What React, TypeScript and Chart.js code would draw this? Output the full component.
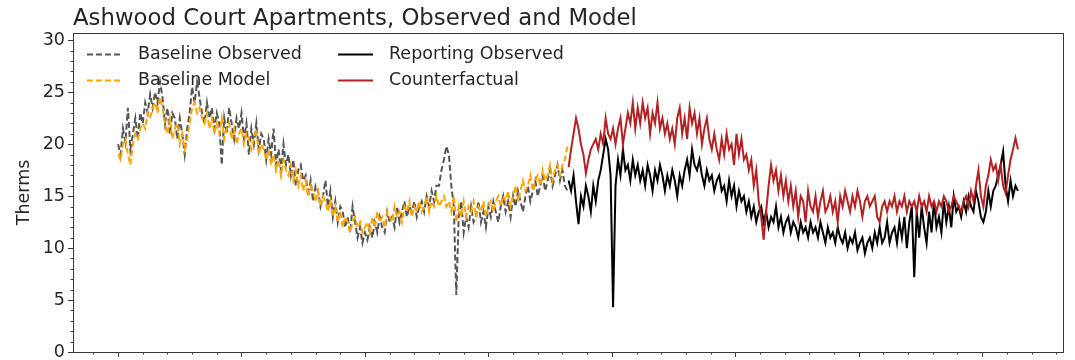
import React, { useEffect, useRef } from 'react';
import { Chart, registerables } from 'chart.js';

Chart.register(...registerables);

const TITLE = 'Ashwood Court Apartments, Observed and Model';
const Y_LABEL = 'Therms';

// Day index of the first point of each period, and spacing between points (days)
const BASELINE_START = 0;
const REPORTING_START = 365;
const STEP = 2;

const baselineObserved = [
  20.0, 19.0, 21.5, 20.2, 23.5, 19.5, 21.0, 22.5, 20.5, 23.0,
  22.0, 24.0, 23.0, 24.8, 23.5, 25.0, 24.0, 26.0, 24.5, 22.0,
  23.5, 21.0, 23.0, 22.5, 20.5, 22.5, 21.0, 19.0, 21.5, 23.0,
  25.5, 24.0, 26.0, 24.5, 23.0, 22.0, 24.0, 22.5, 23.5, 21.5,
  23.0, 22.0, 18.0, 22.5, 21.0, 23.5, 22.0, 20.5, 22.5, 21.5,
  23.0, 20.5, 22.0, 19.0, 21.5, 20.0, 22.0, 19.5, 21.0, 20.5,
  18.5, 20.5, 19.0, 21.5, 18.0, 19.5, 17.5, 20.0, 18.0, 19.0,
  17.0, 18.5, 16.0, 17.5, 18.0, 16.5, 17.0, 15.0, 16.5, 14.5,
  16.0, 15.5, 14.0, 15.0, 16.5, 14.0, 15.5, 13.0, 14.5, 12.5,
  14.0, 13.5, 12.0, 13.0, 11.5, 14.0, 12.5, 11.0, 12.0, 10.5,
  11.5, 10.8, 12.0, 11.0, 12.5, 11.5, 13.0, 12.0, 11.5, 13.5,
  12.5, 13.0, 12.0, 14.0, 12.5, 13.5, 14.5, 13.0, 14.0, 13.5,
  14.5, 13.0, 14.0, 14.5, 13.5, 15.0, 14.0, 15.5, 14.5, 16.0,
  16.0, 17.5, 18.5, 19.8, 19.0, 16.0, 14.0, 5.5, 13.0, 14.5,
  11.5, 13.0, 12.0, 14.0, 12.5, 13.0, 14.5, 12.5, 13.5, 12.0,
  14.0, 13.0, 14.5, 13.5, 12.5, 14.0, 15.0, 13.5, 14.5, 13.0,
  15.0, 14.0, 15.5, 14.5, 13.5, 15.0, 16.0, 14.5, 15.5, 16.5,
  15.0, 16.0, 17.0, 15.5, 16.5, 17.5, 16.0, 17.0, 18.0, 16.5,
  17.5, 16.0, 15.5,
];

const baselineModel = [
  19.0, 18.5, 20.0, 20.5, 19.0, 18.0, 20.0, 21.0, 20.5, 21.5,
  22.0, 21.5, 23.0, 22.5, 23.5, 24.0, 23.0, 24.5, 23.5, 22.0,
  21.0, 22.5, 20.5, 21.5, 22.0, 20.0, 21.0, 19.5, 20.5, 22.0,
  23.5, 24.0, 23.0, 23.5, 22.5, 22.0, 23.0, 21.5, 22.5, 21.0,
  22.0, 21.0, 22.5, 20.5, 21.5, 22.0, 20.5, 21.5, 20.0, 21.0,
  21.5, 20.0, 21.0, 20.5, 19.5, 20.5, 21.5, 19.0, 20.0, 19.5,
  18.5, 19.5, 18.0, 19.0, 17.5, 18.5, 17.0, 18.5, 17.5, 17.0,
  18.0, 16.5, 17.5, 16.0, 17.0, 15.5, 16.5, 15.0, 16.0, 15.5,
  14.5, 15.5, 14.0, 15.0, 14.5, 13.5, 14.5, 13.0, 14.0, 12.5,
  13.5, 12.0, 13.0, 12.5, 11.5, 12.5, 13.0, 12.0, 12.5, 11.5,
  12.0, 12.5, 11.5, 13.0, 12.0, 13.5, 12.5, 13.0, 12.0, 13.5,
  13.0, 12.5, 14.0, 13.0, 13.5, 12.5, 14.0, 13.5, 14.5, 13.0,
  14.0, 13.5, 14.5, 13.5, 14.0, 15.0, 13.5, 14.5, 14.0, 15.0,
  14.0, 14.5, 15.0, 14.0, 14.5, 13.5, 15.0, 12.5, 14.0, 13.0,
  14.5, 13.0, 14.0, 13.5, 14.5, 13.0, 14.0, 13.5, 14.5, 13.0,
  14.0, 14.5, 13.5, 14.5, 15.0, 14.0, 15.0, 14.5, 15.5, 14.0,
  15.0, 16.0, 14.5, 15.5, 16.5, 15.5, 16.0, 17.0, 15.5, 16.5,
  17.0, 16.0, 17.5, 16.5, 17.0, 18.0, 16.5, 17.5, 18.0, 17.0,
  18.0, 18.5, 19.8,
];

const reportingObserved = [
  16.5, 15.5, 17.0, 14.5, 12.3, 15.0, 14.0, 16.0, 15.0, 13.5,
  16.0, 14.5, 16.5, 17.5, 19.0, 20.5, 19.5, 17.0, 4.3, 16.0,
  18.5, 17.0, 19.5, 17.5, 18.0, 16.5, 18.5, 17.0, 18.0, 16.5,
  17.5, 16.0, 18.0, 17.0, 15.5, 17.5, 16.5, 18.0, 17.0, 15.5,
  17.0, 16.0, 17.5, 16.5, 15.0, 17.0, 16.0, 17.5, 18.5, 17.0,
  19.5, 18.0, 17.5, 18.5, 17.0, 16.0, 17.5, 16.5, 17.0, 15.5,
  16.5, 17.0, 15.5, 16.0, 14.5, 16.5, 15.0, 16.0, 14.0, 15.5,
  14.5, 15.0, 13.5, 14.5, 13.0, 14.0, 12.5, 13.5, 14.0, 12.5,
  13.5, 12.0, 13.0, 12.5, 14.0, 12.0, 13.0, 11.5, 12.5, 13.0,
  11.5, 12.5, 12.0, 11.0, 12.5, 11.5, 12.0, 11.0, 12.5, 11.5,
  12.0, 11.0, 12.5, 11.5, 10.5, 12.0, 11.0, 11.5, 10.5, 12.0,
  11.0, 10.5, 11.5, 10.0, 11.0, 10.5, 11.5, 9.8, 10.5, 11.0,
  9.5, 10.5, 11.0, 10.0, 11.5, 10.5, 12.0, 10.5, 11.0, 12.5,
  10.5, 11.5, 12.0, 10.5, 12.5, 11.0, 13.0, 10.0, 12.5, 14.0,
  7.2, 13.5, 11.0, 14.0, 12.0, 10.5, 13.5, 11.5, 14.5, 12.0,
  13.0, 11.5, 14.5, 12.5, 14.0, 12.0, 15.0, 13.5, 14.0, 13.0,
  14.5, 13.5, 15.0, 14.0, 13.5, 15.5, 14.5, 13.0, 12.5, 13.5,
  15.5, 14.0, 15.5, 16.0, 17.0, 18.0, 19.3, 16.0, 14.5, 16.5,
  15.0, 16.0, 15.5,
];

const counterfactual = [
  17.8, 19.5, 21.0, 22.5, 21.5, 20.0, 19.0, 17.2, 18.5, 19.5,
  20.0, 20.5, 19.5, 21.0, 20.0, 22.5, 21.0, 20.5, 21.5, 20.0,
  21.5, 22.5, 20.0, 21.5, 23.0, 22.0, 24.0, 21.5, 23.5, 22.0,
  24.0, 22.5, 23.5, 21.0, 23.0, 22.0, 24.0, 21.5, 22.5, 21.0,
  22.0, 20.5, 21.5, 20.0, 22.5, 23.5, 21.0, 22.5, 20.5, 23.5,
  22.0, 23.0, 21.0, 22.5, 20.0, 21.5, 22.5, 20.5, 19.5, 21.0,
  19.5, 18.5, 20.5, 19.0, 21.0, 19.5, 20.0, 18.0, 21.0, 19.0,
  20.5, 18.5, 19.0, 17.5, 18.5, 16.0, 17.5, 14.5, 13.0, 10.8,
  13.5, 16.0, 18.0, 16.5, 17.5, 15.5, 17.0, 15.0, 16.5, 14.5,
  16.0, 14.0, 15.5, 13.0, 15.0, 14.5, 12.5, 15.5, 14.0, 13.5,
  15.0, 13.0, 14.5, 15.5, 13.5, 14.0, 15.0, 13.5, 14.5, 12.5,
  15.0, 14.0, 15.5, 14.5, 13.5, 15.0, 14.0, 15.5, 14.5, 13.0,
  14.5, 15.0, 14.0, 14.5, 15.0, 13.0, 12.5, 14.0, 14.5, 13.5,
  14.5, 14.0, 15.0, 13.5, 14.5, 14.0, 15.0, 13.5, 14.5, 14.0,
  14.5, 13.5, 15.0, 14.0, 14.5, 13.5, 15.0, 14.0, 14.5, 13.5,
  14.5, 14.0, 15.0, 14.5, 13.5, 14.0, 15.0, 14.5, 14.0, 13.5,
  14.5, 15.0, 14.0, 15.5, 14.5, 16.0, 17.5, 15.0, 14.0, 16.0,
  17.0, 18.5, 17.5, 18.0, 16.5, 18.0, 16.0, 15.3, 17.0, 18.5,
  19.5, 20.6, 19.5,
];

const Y_MIN = 0;
const Y_MAX = 30.7;
const Y_MAJOR = 5;
const Y_MINOR = 1;
const X_MIN = -36.5;
const X_MAX = 765.5;
const X_MAJOR = 100;
const X_MINOR = 20;

const LEGEND_ITEMS = [
  { label: 'Baseline Observed', color: '#555555', dash: true, col: 0, row: 0 },
  { label: 'Baseline Model', color: '#ffa500', dash: true, col: 0, row: 1 },
  { label: 'Reporting Observed', color: '#000000', dash: false, col: 1, row: 0 },
  { label: 'Counterfactual', color: '#b22222', dash: false, col: 1, row: 1 },
];

const FONT = '"DejaVu Sans", sans-serif';
const TEXT_COLOR = '#262626';
const AXIS_COLOR = '#3a3a3a';

function toPoints(values: number[], start: number) {
  return values.map((v, i) => ({ x: start + i * STEP, y: v }));
}

function zeroPadding(s: any) {
  s.paddingTop = 0;
  s.paddingBottom = 0;
  s.paddingLeft = 0;
  s.paddingRight = 0;
}

const decorPlugin = {
  id: 'decor',
  afterDraw(chart: any) {
    const { ctx, chartArea: a, scales } = chart;
    ctx.save();
    ctx.strokeStyle = AXIS_COLOR;
    ctx.lineWidth = 1;
    ctx.strokeRect(Math.round(a.left) + 0.5, Math.round(a.top) + 0.5,
      Math.round(a.right - a.left), Math.round(a.bottom - a.top));

    const ys = scales.y;
    for (let v = Y_MIN; v <= 30; v += Y_MINOR) {
      const py = Math.round(ys.getPixelForValue(v)) + 0.5;
      const len = v % Y_MAJOR === 0 ? 5 : 2.5;
      ctx.beginPath();
      ctx.moveTo(a.left, py);
      ctx.lineTo(a.left - len, py);
      ctx.stroke();
    }
    const xs = scales.x;
    for (let v = -20; v <= 760; v += X_MINOR) {
      const px = Math.round(xs.getPixelForValue(v)) + 0.5;
      const len = v % X_MAJOR === 0 ? 5 : 2.5;
      ctx.beginPath();
      ctx.moveTo(px, a.bottom);
      ctx.lineTo(px, a.bottom + len);
      ctx.stroke();
    }

    // title
    ctx.fillStyle = TEXT_COLOR;
    ctx.font = `22.8px ${FONT}`;
    ctx.textAlign = 'left';
    ctx.textBaseline = 'alphabetic';
    ctx.fillText(TITLE, a.left, a.top - 8);

    // y label
    ctx.save();
    ctx.translate(24, (a.top + a.bottom) / 2);
    ctx.rotate(-Math.PI / 2);
    ctx.textAlign = 'center';
    ctx.textBaseline = 'middle';
    ctx.font = `17.5px ${FONT}`;
    ctx.fillText(Y_LABEL, 0, 0);
    ctx.restore();

    // legend
    ctx.font = `17.5px ${FONT}`;
    ctx.textBaseline = 'middle';
    const colX = [a.left + 14, a.left + 265];
    const rowY = [a.top + 21, a.top + 47];
    for (const it of LEGEND_ITEMS) {
      const x0 = colX[it.col];
      const y0 = Math.round(rowY[it.row]) + 0.5;
      ctx.strokeStyle = it.color;
      ctx.lineWidth = 2;
      ctx.setLineDash(it.dash ? [6, 3] : []);
      ctx.beginPath();
      ctx.moveTo(x0, y0);
      ctx.lineTo(x0 + 35, y0);
      ctx.stroke();
      ctx.setLineDash([]);
      ctx.fillStyle = TEXT_COLOR;
      ctx.fillText(it.label, x0 + 51, y0);
    }
    ctx.restore();
  },
};

export default function App() {
  const ref = useRef<HTMLCanvasElement | null>(null);
  useEffect(() => {
    if (!ref.current) return;
    const lineStyle = { pointRadius: 0, borderWidth: 2, tension: 0, fill: false };
    const chart = new Chart(ref.current, {
      type: 'line',
      data: {
        datasets: [
          { label: 'Baseline Observed', data: toPoints(baselineObserved, BASELINE_START),
            borderColor: '#555555', borderDash: [6, 3], order: 4, ...lineStyle },
          { label: 'Baseline Model', data: toPoints(baselineModel, BASELINE_START),
            borderColor: '#ffa500', borderDash: [6, 3], order: 3, ...lineStyle },
          { label: 'Reporting Observed', data: toPoints(reportingObserved, REPORTING_START),
            borderColor: '#000000', order: 2, ...lineStyle },
          { label: 'Counterfactual', data: toPoints(counterfactual, REPORTING_START),
            borderColor: '#b22222', order: 1, ...lineStyle },
        ],
      },
      options: {
        animation: false,
        responsive: true,
        maintainAspectRatio: false,
        layout: { autoPadding: false, padding: { left: 0, top: 33, right: 12, bottom: 0 } },
        plugins: { legend: { display: false }, tooltip: { enabled: false }, title: { display: false } },
        scales: {
          x: {
            type: 'linear',
            min: X_MIN,
            max: X_MAX,
            grid: { display: false, drawTicks: false },
            border: { display: false },
            ticks: { display: false },
            afterFit: (s: any) => { s.height = 8; zeroPadding(s); },
          },
          y: {
            type: 'linear',
            min: Y_MIN,
            max: Y_MAX,
            grid: { display: false, drawTicks: false },
            border: { display: false },
            ticks: {
              stepSize: Y_MAJOR,
              includeBounds: false,
              padding: 8,
              color: TEXT_COLOR,
              font: { family: FONT, size: 17.5 },
            },
            afterFit: (s: any) => { s.width = 73; zeroPadding(s); },
          },
        },
      },
      plugins: [decorPlugin],
    } as any);
    return () => chart.destroy();
  }, []);
  return (
    <div style={{ position: 'fixed', left: 0, top: 0, width: 1075, height: 360, background: '#fff' }}>
      <canvas ref={ref} />
    </div>
  );
}
